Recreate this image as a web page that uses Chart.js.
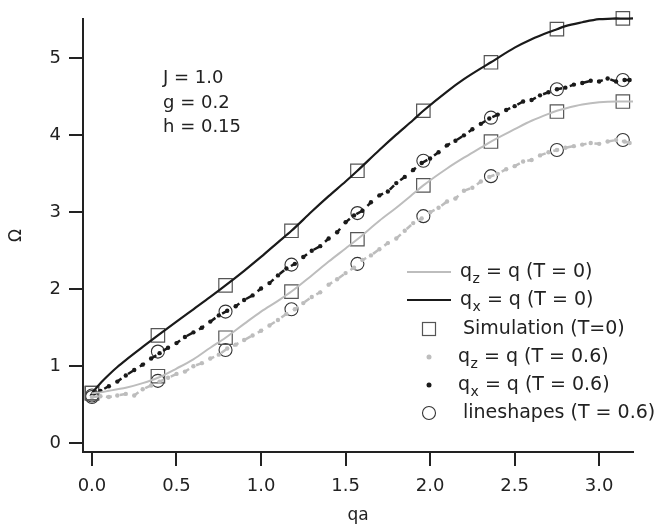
<!DOCTYPE html>
<html>
<head>
<meta charset="utf-8">
<script src="https://cdn.jsdelivr.net/npm/chart.js@4/dist/chart.umd.min.js"></script>
<style>
  html, body { margin: 0; padding: 0; background: #ffffff; }
  #wrap { width: 660px; height: 530px; }
</style>
</head>
<body>
<div id="wrap"><canvas id="c" width="660" height="530"></canvas></div>
<script>
// ---- data ----
const xTicks = [0.0, 0.5, 1.0, 1.5, 2.0, 2.5, 3.0];
const xTickLabels = ["0.0", "0.5", "1.0", "1.5", "2.0", "2.5", "3.0"];
const yTicks = [0, 1, 2, 3, 4, 5];
const yTickLabels = ["0", "1", "2", "3", "4", "5"];

// theory curves, T = 0
const lineX = [0, 0.05, 0.1, 0.15, 0.2, 0.3, 0.39, 0.5, 0.6, 0.7, 0.79, 0.9, 1.0, 1.1, 1.18, 1.3, 1.4, 1.5, 1.57, 1.7, 1.8, 1.9, 1.96, 2.1, 2.2, 2.3, 2.36, 2.5, 2.6, 2.7, 2.75, 2.8, 2.9, 3.0, 3.1, 3.2];
const qxLineT0 = [0.65, 0.78, 0.89, 0.99, 1.08, 1.25, 1.40, 1.58, 1.74, 1.90, 2.05, 2.24, 2.42, 2.61, 2.76, 3.01, 3.21, 3.40, 3.54, 3.81, 4.01, 4.20, 4.32, 4.57, 4.73, 4.87, 4.95, 5.14, 5.25, 5.34, 5.38, 5.42, 5.47, 5.51, 5.52, 5.52];
const qzLineT0 = [0.65, 0.66, 0.68, 0.70, 0.72, 0.78, 0.85, 0.97, 1.09, 1.24, 1.37, 1.55, 1.71, 1.85, 1.97, 2.18, 2.36, 2.53, 2.65, 2.89, 3.06, 3.24, 3.35, 3.57, 3.71, 3.84, 3.92, 4.08, 4.19, 4.28, 4.32, 4.35, 4.40, 4.43, 4.44, 4.44];

// simulation (T = 0) and lineshape (T = 0.6) points
const simX = [0, 0.39, 0.79, 1.18, 1.57, 1.96, 2.36, 2.75, 3.14];
const simQx = [0.65, 1.40, 2.05, 2.76, 3.54, 4.32, 4.95, 5.38, 5.52];
const simQz = [0.65, 0.87, 1.37, 1.97, 2.65, 3.35, 3.92, 4.31, 4.44];
const shapeQx = [0.62, 1.19, 1.71, 2.32, 2.99, 3.67, 4.23, 4.60, 4.72];
const shapeQz = [0.60, 0.81, 1.21, 1.74, 2.33, 2.95, 3.47, 3.81, 3.94];

// dotted curves, T = 0.6
const dotX = [0.00, 0.05, 0.10, 0.15, 0.20, 0.25, 0.30, 0.35, 0.40, 0.45, 0.50, 0.55, 0.60, 0.65, 0.70, 0.75, 0.80, 0.85, 0.90, 0.95, 1.00, 1.05, 1.10, 1.15, 1.20, 1.25, 1.30, 1.35, 1.40, 1.45, 1.50, 1.55, 1.60, 1.65, 1.70, 1.75, 1.80, 1.85, 1.90, 1.95, 2.00, 2.05, 2.10, 2.15, 2.20, 2.25, 2.30, 2.35, 2.40, 2.45, 2.50, 2.55, 2.60, 2.65, 2.70, 2.75, 2.80, 2.85, 2.90, 2.95, 3.00, 3.05, 3.10, 3.15, 3.18];
const qxDotT06 = [0.62, 0.68, 0.74, 0.80, 0.88, 0.95, 1.02, 1.10, 1.17, 1.24, 1.30, 1.38, 1.44, 1.50, 1.58, 1.66, 1.72, 1.78, 1.86, 1.92, 2.01, 2.08, 2.18, 2.27, 2.33, 2.42, 2.50, 2.56, 2.66, 2.74, 2.87, 2.96, 3.02, 3.13, 3.22, 3.27, 3.38, 3.46, 3.55, 3.64, 3.70, 3.78, 3.87, 3.93, 4.00, 4.08, 4.15, 4.22, 4.27, 4.33, 4.38, 4.44, 4.46, 4.52, 4.56, 4.60, 4.62, 4.66, 4.68, 4.71, 4.70, 4.74, 4.70, 4.72, 4.72];
const qzDotT06 = [0.60, 0.61, 0.60, 0.62, 0.64, 0.62, 0.70, 0.75, 0.80, 0.85, 0.90, 0.93, 1.00, 1.04, 1.10, 1.15, 1.23, 1.28, 1.34, 1.40, 1.46, 1.53, 1.60, 1.68, 1.74, 1.82, 1.90, 1.96, 2.06, 2.13, 2.21, 2.28, 2.38, 2.44, 2.52, 2.60, 2.66, 2.76, 2.86, 2.92, 3.00, 3.06, 3.14, 3.18, 3.28, 3.32, 3.40, 3.46, 3.50, 3.56, 3.60, 3.66, 3.68, 3.74, 3.78, 3.81, 3.84, 3.86, 3.88, 3.90, 3.89, 3.92, 3.94, 3.92, 3.90];

const legendLabels = [
  { main: "q", sub: "z", rest: " = q (T = 0)" },
  { main: "q", sub: "x", rest: " = q (T = 0)" },
  { main: "Simulation (T=0)", sub: "", rest: "" },
  { main: "q", sub: "z", rest: " = q (T = 0.6)" },
  { main: "q", sub: "x", rest: " = q (T = 0.6)" },
  { main: "lineshapes (T = 0.6)", sub: "", rest: "" }
];
const paramLines = ["J = 1.0", "g = 0.2", "h = 0.15"];

// ---- build ----
const FONT = "'DejaVu Sans', sans-serif";
const INK = "#222222";
const GREY = "#bdbdbd";
const pts = (xs, ys) => xs.map((x, i) => ({ x: x, y: ys[i] }));

const datasets = [
  { data: pts(lineX, qzLineT0), borderColor: GREY, borderWidth: 2, pointRadius: 0, cubicInterpolationMode: 'monotone', fill: false },
  { data: pts(lineX, qxLineT0), borderColor: "#1a1a1a", borderWidth: 2.2, pointRadius: 0, cubicInterpolationMode: 'monotone', fill: false, clip: false },
  { data: pts(dotX, qzDotT06), borderColor: GREY, borderWidth: 2.5, borderDash: [6, 8], pointRadius: 2.2, pointBackgroundColor: GREY, pointBorderWidth: 0, fill: false },
  { data: pts(dotX, qxDotT06), borderColor: "#1a1a1a", borderWidth: 2.5, borderDash: [6, 8], pointRadius: 2.2, pointBackgroundColor: "#1a1a1a", pointBorderWidth: 0, fill: false },
  { data: pts(simX, simQz), showLine: false, pointStyle: 'rect', pointRadius: 9.5, pointBorderColor: "#555555", pointBorderWidth: 1.2, pointBackgroundColor: 'rgba(0,0,0,0)', clip: false },
  { data: pts(simX, simQx), showLine: false, pointStyle: 'rect', pointRadius: 9.5, pointBorderColor: "#555555", pointBorderWidth: 1.2, pointBackgroundColor: 'rgba(0,0,0,0)', clip: false },
  { data: pts(simX, shapeQz), showLine: false, pointStyle: 'circle', pointRadius: 6.5, pointBorderColor: "#333333", pointBorderWidth: 1.1, pointBackgroundColor: 'rgba(0,0,0,0)', clip: false },
  { data: pts(simX, shapeQx), showLine: false, pointStyle: 'circle', pointRadius: 6.5, pointBorderColor: "#333333", pointBorderWidth: 1.1, pointBackgroundColor: 'rgba(0,0,0,0)', clip: false }
];

const overlay = {
  id: 'overlay',
  afterDraw(chart) {
    const ctx = chart.ctx;
    ctx.save();
    ctx.fillStyle = INK;
    ctx.textBaseline = 'middle';
    ctx.textAlign = 'left';
    ctx.font = "18px " + FONT;
    // parameters
    const py = [78, 103, 127];
    paramLines.forEach((t, i) => ctx.fillText(t, 163, py[i]));
    // legend
    const rowY = [272, 300, 329, 357, 385, 413];
    const symX = 429;
    rowY.forEach((y, i) => {
      ctx.save();
      if (i === 0 || i === 1) {
        ctx.strokeStyle = i === 0 ? GREY : "#1a1a1a";
        ctx.lineWidth = 2;
        ctx.beginPath(); ctx.moveTo(407, y); ctx.lineTo(451, y); ctx.stroke();
      } else if (i === 2) {
        ctx.strokeStyle = "#555555"; ctx.lineWidth = 1.2;
        ctx.strokeRect(symX - 6.5, y - 6.5, 13, 13);
      } else if (i === 3 || i === 4) {
        ctx.fillStyle = i === 3 ? GREY : "#1a1a1a";
        ctx.beginPath(); ctx.arc(symX, y, 2.5, 0, Math.PI * 2); ctx.fill();
      } else {
        ctx.strokeStyle = "#333333"; ctx.lineWidth = 1.1;
        ctx.beginPath(); ctx.arc(symX, y, 6.5, 0, Math.PI * 2); ctx.stroke();
      }
      ctx.restore();
      const lab = legendLabels[i];
      let x = (i === 0 || i === 1) ? 460 : (i === 3 || i === 4 ? 458 : 463);
      ctx.font = "19px " + FONT;
      ctx.fillText(lab.main, x, y);
      x += ctx.measureText(lab.main).width;
      if (lab.sub) {
        ctx.font = "14px " + FONT;
        ctx.fillText(lab.sub, x + 0.5, y + 7);
        x += ctx.measureText(lab.sub).width + 0.5;
        ctx.font = "19px " + FONT;
        ctx.fillText(lab.rest, x, y);
      }
    });
    ctx.restore();
  }
};

new Chart(document.getElementById('c'), {
  type: 'line',
  data: { datasets: datasets },
  plugins: [overlay],
  options: {
    responsive: false,
    animation: false,
    devicePixelRatio: 1,
    layout: { padding: { top: 12, right: 27, left: 0, bottom: 0 } },
    plugins: { legend: { display: false }, tooltip: { enabled: false } },
    scales: {
      x: {
        type: 'linear',
        min: -0.053, max: 3.2,
        afterBuildTicks: s => { s.ticks = xTicks.map(v => ({ value: v })); },
        afterFit: s => { s.height = 78; },
        grid: { drawOnChartArea: false, drawTicks: true, tickLength: 14, color: INK, lineWidth: 2 },
        border: { display: true, color: INK, width: 2 },
        ticks: {
          color: INK, padding: 10, maxRotation: 0, autoSkip: false,
          font: { family: FONT, size: 18 },
          callback: (v, i) => xTickLabels[i]
        },
        title: { display: true, text: 'qa', color: INK, font: { family: FONT, size: 17 }, padding: { top: 0, bottom: 4 } }
      },
      y: {
        type: 'linear',
        min: -0.115, max: 5.515,
        afterBuildTicks: s => { s.ticks = yTicks.map(v => ({ value: v })); },
        afterFit: s => { s.width = 83; },
        grid: { drawOnChartArea: false, drawTicks: true, tickLength: 14, color: INK, lineWidth: 2 },
        border: { display: true, color: INK, width: 2 },
        ticks: {
          color: INK, padding: 8, autoSkip: false,
          font: { family: FONT, size: 18 },
          callback: (v, i) => yTickLabels[i]
        },
        title: { display: true, text: 'Ω', color: INK, font: { family: FONT, size: 17 }, padding: { top: 6, bottom: 0 } }
      }
    }
  }
});
</script>
</body>
</html>
